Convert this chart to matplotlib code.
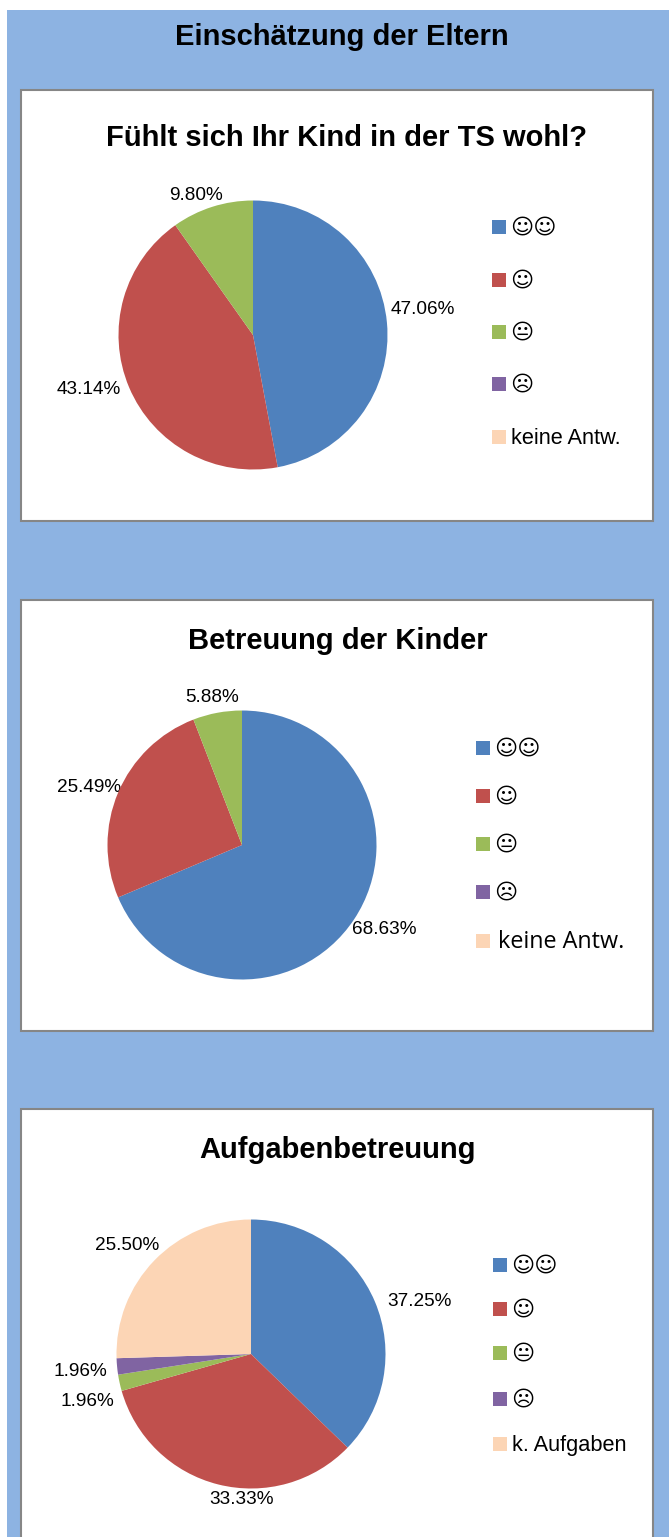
import matplotlib
matplotlib.use("Agg")
import matplotlib.pyplot as plt
from matplotlib.patches import Rectangle

W, H = 669, 1537
COLORS = ["#4F81BD", "#C0504D", "#9BBB59", "#8064A2", "#FCD5B5"]
SANS = ["Liberation Sans", "DejaVu Sans"]
SMILE = ["\u263A\u263A", "\u263A", "\U0001F610", "\u2639"]

page_title = "Einschätzung der Eltern"
titles = ["Fühlt sich Ihr Kind in der TS wohl?", "Betreuung der Kinder", "Aufgabenbetreuung"]
values_1 = [47.06, 43.14, 9.80, 0, 0]
values_2 = [68.63, 25.49, 5.88, 0, 0]
values_3 = [37.25, 33.33, 1.96, 1.96, 25.50]
legend_1 = SMILE + ["keine Antw."]
legend_2 = SMILE + ["keine Antw."]
legend_3 = SMILE + ["k. Aufgaben"]

panels = [
    dict(vals=values_1, legend=legend_1, title=titles[0], frame=(21, 90, 653, 521), title_y=137,
         center=(253, 335), radius=134.5, swatch_x=492, swatch_ys=[227, 280, 332, 384, 437],
         label_pos=[(422.5, 309), (89, 388), (195.5, 194), None, None]),
    dict(vals=values_2, legend=legend_2, title=titles[1], frame=(21, 600, 653, 1031), title_y=640,
         center=(242, 845), radius=134.5, swatch_x=476, swatch_ys=[748, 796, 844, 892, 941],
         label_pos=[(384, 928), (89, 786), (212, 696), None, None]),
    dict(vals=values_3, legend=legend_3, title=titles[2], frame=(21, 1109, 653, 1560), title_y=1149,
         center=(251, 1354), radius=134.5, swatch_x=493, swatch_ys=[1265, 1309, 1353, 1399, 1444],
         label_pos=[(420, 1301), (241.5, 1499), (87.5, 1400), (80, 1370), (127, 1244)]),
]

fig = plt.figure(figsize=(W / 100, H / 100), dpi=100, facecolor="white")
bg = fig.add_axes([0, 0, 1, 1])
bg.set_xlim(0, W)
bg.set_ylim(H, 0)
bg.axis("off")
bg.add_patch(Rectangle((7, 10), W - 7, H - 10, fc="#8DB3E2", ec="none"))
bg.text(342, 37, page_title, ha="center", va="center", family=SANS, weight="bold", fontsize=21)

for i, p in enumerate(panels):
    x0, y0, x1, y1 = p["frame"]
    bg.add_patch(Rectangle((x0, y0), x1 - x0, y1 - y0, fc="white", ec="#868686", lw=1.5))
    bg.text((x0 + x1) / 2 + 9 if i == 0 else (x0 + x1) / 2 + 1, p["title_y"] + 1, p["title"], ha="center", va="center",
            family=SANS, weight="bold", fontsize=21)
    cx, cy = p["center"]
    r = p["radius"]
    ax = fig.add_axes([(cx - r) / W, 1 - (cy + r) / H, 2 * r / W, 2 * r / H])
    ax.pie(p["vals"], colors=COLORS, startangle=90, counterclock=False, radius=1,
           wedgeprops=dict(linewidth=0))
    ax.set_xlim(-1, 1)
    ax.set_ylim(-1, 1)
    ax.patch.set_alpha(0)
    for v, pos in zip(p["vals"], p["label_pos"]):
        if pos is not None:
            bg.text(pos[0], pos[1] + 1, f"{v:.2f}%", ha="center", va="center", family=SANS,
                    fontsize=13.7, zorder=5)
    for j, (lab, y) in enumerate(zip(p["legend"], p["swatch_ys"])):
        bg.add_patch(Rectangle((p["swatch_x"], y - 7), 14, 14, fc=COLORS[j], ec="none"))
        tx = p["swatch_x"] + 20
        if i == 1 and j == 4:
            bg.text(tx + 2, y + 1, lab, ha="left", va="center", family="Open Sans", fontsize=16.8)
        elif j == 4:
            bg.text(tx - 1, y + 2, lab, ha="left", va="center", family=SANS, fontsize=15.7)
        else:
            bg.text(tx - 2, y + 1, lab, ha="left", va="center", family=["DejaVu Sans"], fontsize=16)

fig.savefig("out.png", dpi=100)
